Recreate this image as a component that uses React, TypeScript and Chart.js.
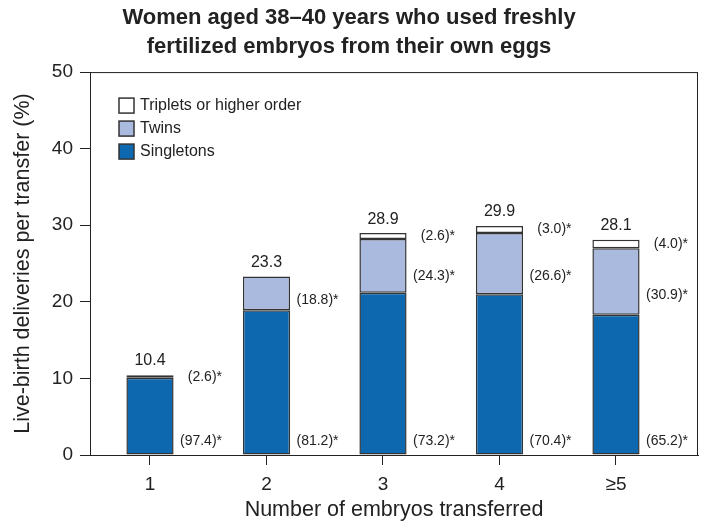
import React, { useEffect, useRef } from "react";
import { Chart, registerables } from "chart.js";

Chart.register(...registerables);

const categories = ["1", "2", "3", "4", "≥5"];
const singletons = [10.1, 18.9, 21.2, 21.0, 18.3];
const twins = [0.3, 4.4, 7.0, 8.0, 8.7];
const triplets = [null, null, 0.8, 0.9, 1.1];
const totals = [10.4, 23.3, 28.9, 29.9, 28.1];
const singletonsPct = ["97.4", "81.2", "73.2", "70.4", "65.2"];
const twinsPct = ["2.6", "18.8", "24.3", "26.6", "30.9"];
const tripletsPct = [null, null, "2.6", "3.0", "4.0"];
const yTicks = [0, 10, 20, 30, 40, 50];

const FONT = "'Liberation Sans', Arial, Helvetica, sans-serif";
const INK = "#222222";

const toPoints = (arr: (number | null)[]) => arr.map((v, i) => ({ x: i + 1, y: v }));

const boxPlugin = {
  id: "boxPlugin",
  beforeDatasetsDraw(chart: any) {
    const { ctx, chartArea } = chart;
    ctx.save();
    ctx.strokeStyle = INK;
    ctx.lineWidth = 1;
    ctx.strokeRect(chartArea.left + 0.5, chartArea.top + 0.5, chartArea.right - chartArea.left - 1, chartArea.bottom - chartArea.top);
    ctx.restore();
  },
};

const annotationPlugin = {
  id: "annotationPlugin",
  afterDatasetsDraw(chart: any) {
    const { ctx } = chart;
    const xs = chart.scales.x;
    const ys = chart.scales.y;
    ctx.save();
    ctx.fillStyle = INK;
    ctx.font = `16px ${FONT}`;
    ctx.textAlign = "center";
    ctx.textBaseline = "alphabetic";
    totals.forEach((t, i) => {
      ctx.fillText(t.toFixed(1), xs.getPixelForValue(i + 1), ys.getPixelForValue(t) - 10);
    });
    ctx.font = `14px ${FONT}`;
    ctx.textAlign = "right";
    ctx.textBaseline = "middle";
    categories.forEach((_, i) => {
      const x = xs.getPixelForValue(i + 1) + 72;
      ctx.fillText(`(${singletonsPct[i]})*`, x, ys.getPixelForValue(1.8));
      const s = singletons[i];
      const tw = twins[i];
      ctx.fillText(`(${twinsPct[i]})*`, x, ys.getPixelForValue(s + tw * 0.3));
      const tr = triplets[i];
      if (tr != null && tripletsPct[i] != null) {
        ctx.fillText(`(${tripletsPct[i]})*`, x, ys.getPixelForValue(s + tw + tr * 0.5));
      }
    });
    ctx.restore();
  },
};

const legendPlugin = {
  id: "insideLegend",
  afterDraw(chart: any) {
    const { ctx, chartArea } = chart;
    const items = chart.data.datasets.slice().reverse();
    ctx.save();
    ctx.font = `16px ${FONT}`;
    ctx.textAlign = "left";
    ctx.textBaseline = "middle";
    items.forEach((ds: any, k: number) => {
      const cy = chartArea.top + 33 + k * 23;
      const bx = chartArea.left + 29;
      ctx.fillStyle = ds.backgroundColor;
      ctx.fillRect(bx, cy - 7, 15, 15);
      ctx.strokeStyle = "#333333";
      ctx.lineWidth = 1.5;
      ctx.strokeRect(bx, cy - 7, 15, 15);
      ctx.fillStyle = INK;
      ctx.fillText(ds.label, bx + 21, cy + 1);
    });
    ctx.restore();
  },
};

export default function App() {
  const ref = useRef<HTMLCanvasElement | null>(null);
  useEffect(() => {
    if (!ref.current) return;
    const barCommon = {
      borderColor: "#333333",
      borderWidth: 1.5,
      borderSkipped: false,
      categoryPercentage: 1,
      barPercentage: 0.405,
    };
    const chart = new Chart(ref.current, {
      type: "bar",
      data: {
        datasets: [
          { label: "Singletons", data: toPoints(singletons), backgroundColor: "#0d68b0", ...barCommon },
          { label: "Twins", data: toPoints(twins), backgroundColor: "#aabadf", ...barCommon },
          { label: "Triplets or higher order", data: toPoints(triplets), backgroundColor: "#ffffff", ...barCommon },
        ],
      } as any,
      options: {
        animation: false,
        responsive: true,
        maintainAspectRatio: false,
        layout: { padding: { left: 0, right: 8, top: 0, bottom: 0 } },
        plugins: {
          legend: { display: false },
          tooltip: { enabled: false },
          title: {
            display: true,
            text: ["Women aged 38–40 years who used freshly", "fertilized embryos from their own eggs"],
            color: INK,
            font: { family: FONT, size: 22, weight: "bold", lineHeight: 1.32 },
            padding: { top: 3.5, bottom: 10.5 },
          },
        },
        scales: {
          x: {
            type: "linear",
            stacked: true,
            min: 0.485,
            max: 5.704,
            offset: false,
            afterFit: (s: any) => { s.height = 70; },
            afterBuildTicks: (s: any) => { s.ticks = categories.map((_, i) => ({ value: i + 1 })); },
            ticks: {
              callback: (v: any) => categories[Math.round(v) - 1] ?? "",
              color: INK,
              font: { family: FONT, size: 19 },
              padding: 8,
              maxRotation: 0,
            },
            grid: { offset: false, drawOnChartArea: false, drawTicks: true, tickLength: 10, color: INK, lineWidth: 1 },
            border: { display: true, color: INK, width: 1 },
            title: {
              display: true,
              text: "Number of embryos transferred",
              color: INK,
              font: { family: FONT, size: 21.5, lineHeight: 1.2 },
              padding: { top: 0, bottom: 2 },
            },
          },
          y: {
            stacked: true,
            min: 0,
            max: 50,
            afterFit: (s: any) => { s.width = 90; },
            afterBuildTicks: (s: any) => { s.ticks = yTicks.map((v) => ({ value: v })); },
            ticks: { color: INK, font: { family: FONT, size: 19 }, padding: 7 },
            grid: { offset: false, drawOnChartArea: false, drawTicks: true, tickLength: 10, color: INK, lineWidth: 1 },
            border: { display: true, color: INK, width: 1 },
            title: {
              display: true,
              text: "Live-birth deliveries per transfer (%)",
              color: INK,
              font: { family: FONT, size: 21.5, lineHeight: 1.2 },
              padding: { top: 10, bottom: 0 },
            },
          },
        },
      } as any,
      plugins: [boxPlugin, annotationPlugin, legendPlugin],
    });
    return () => chart.destroy();
  }, []);
  return (
    <div style={{ position: "fixed", left: 0, top: 0, width: 706, height: 525, background: "#ffffff" }}>
      <canvas ref={ref} />
    </div>
  );
}
